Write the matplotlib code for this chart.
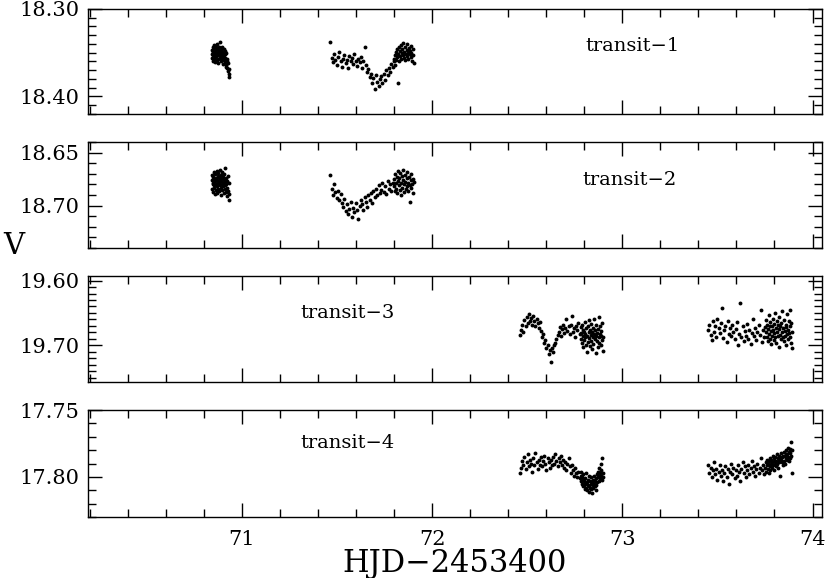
import matplotlib
matplotlib.use("Agg")
import matplotlib.pyplot as plt
from matplotlib.ticker import MultipleLocator, FormatStrFormatter

plt.rcParams['font.family'] = ['DejaVu Serif']

# observation times (HJD - 2453400); transits 1/2 share one night, 3/4 another
t_night1 = [
    70.840, 70.842, 70.843, 70.845, 70.846, 70.848, 70.849, 70.851, 70.852, 70.854,
    70.855, 70.857, 70.858, 70.860, 70.861, 70.863, 70.864, 70.866, 70.867, 70.869,
    70.870, 70.872, 70.873, 70.875, 70.876, 70.878, 70.879, 70.881, 70.882, 70.884,
    70.885, 70.887, 70.888, 70.890, 70.891, 70.893, 70.894, 70.896, 70.897, 70.899,
    70.900, 70.902, 70.903, 70.905, 70.906, 70.908, 70.909, 70.911, 70.912, 70.914,
    70.915, 70.917, 70.919, 70.921, 70.923, 70.925, 70.927, 70.929, 70.931, 70.933,
    71.465, 71.471, 71.478, 71.485, 71.491, 71.498, 71.505, 71.511, 71.518, 71.525,
    71.531, 71.538, 71.545, 71.551, 71.558, 71.565, 71.571, 71.578, 71.585, 71.591,
    71.598, 71.605, 71.611, 71.618, 71.625, 71.631, 71.638, 71.645, 71.651, 71.658,
    71.665, 71.671, 71.678, 71.685, 71.691, 71.698, 71.705, 71.711, 71.718, 71.725,
    71.731, 71.738, 71.745, 71.751, 71.758, 71.765, 71.771, 71.778, 71.785, 71.792,
    71.798, 71.801, 71.803, 71.806, 71.809, 71.811, 71.814, 71.817, 71.819, 71.822,
    71.825, 71.827, 71.830, 71.833, 71.835, 71.838, 71.841, 71.843, 71.846, 71.849,
    71.851, 71.854, 71.857, 71.859, 71.862, 71.865, 71.867, 71.870, 71.873, 71.875,
    71.878, 71.881, 71.883, 71.886, 71.889, 71.891, 71.894, 71.897, 71.899, 71.903,
]
t_night2 = [
    72.462, 72.468, 72.473, 72.479, 72.485, 72.491, 72.497, 72.502, 72.508, 72.514,
    72.520, 72.526, 72.531, 72.537, 72.543, 72.549, 72.555, 72.560, 72.566, 72.572,
    72.578, 72.584, 72.589, 72.595, 72.601, 72.607, 72.613, 72.618, 72.624, 72.630,
    72.636, 72.642, 72.647, 72.653, 72.659, 72.665, 72.671, 72.676, 72.682, 72.688,
    72.694, 72.700, 72.705, 72.711, 72.717, 72.723, 72.729, 72.734, 72.740, 72.746,
    72.752, 72.758, 72.763, 72.769, 72.775,
    72.780, 72.782, 72.784, 72.787, 72.789, 72.791, 72.793, 72.795, 72.798, 72.800,
    72.802, 72.804, 72.806, 72.809, 72.811, 72.813, 72.815, 72.817, 72.820, 72.822,
    72.824, 72.826, 72.828, 72.831, 72.833, 72.835, 72.837, 72.839, 72.842, 72.844,
    72.846, 72.848, 72.850, 72.853, 72.855, 72.857, 72.859, 72.861, 72.864, 72.866,
    72.868, 72.870, 72.872, 72.875, 72.877, 72.879, 72.881, 72.883, 72.886, 72.888,
    72.890, 72.892, 72.894, 72.897, 72.899,
    73.452, 73.458, 73.464, 73.470, 73.476, 73.482, 73.488, 73.494, 73.500, 73.506,
    73.512, 73.518, 73.524, 73.530, 73.536, 73.542, 73.548, 73.554, 73.560, 73.566,
    73.572, 73.578, 73.584, 73.590, 73.596, 73.602, 73.608, 73.614, 73.620, 73.626,
    73.632, 73.638, 73.644, 73.650, 73.656, 73.662, 73.668, 73.674, 73.680, 73.686,
    73.692, 73.698, 73.704, 73.710, 73.716, 73.722, 73.728, 73.734, 73.740, 73.746,
    73.752, 73.754, 73.757, 73.759, 73.762, 73.764, 73.766, 73.769, 73.771, 73.774,
    73.776, 73.778, 73.781, 73.783, 73.786, 73.788, 73.790, 73.793, 73.795, 73.798,
    73.800, 73.802, 73.805, 73.807, 73.810, 73.812, 73.814, 73.817, 73.819, 73.822,
    73.824, 73.826, 73.829, 73.831, 73.834, 73.836, 73.838, 73.841, 73.843, 73.846,
    73.848, 73.850, 73.853, 73.855, 73.858, 73.860, 73.862, 73.865, 73.867, 73.870,
    73.872, 73.874, 73.877, 73.879, 73.882, 73.884, 73.886, 73.889, 73.891, 73.894,
]

# V magnitudes
v_transit1 = [
    18.351, 18.347, 18.356, 18.343, 18.353, 18.359, 18.349, 18.345, 18.357, 18.352,
    18.341, 18.355, 18.348, 18.361, 18.350, 18.344, 18.354, 18.358, 18.346, 18.352,
    18.340, 18.357, 18.349, 18.353, 18.362, 18.347, 18.351, 18.344, 18.356, 18.350,
    18.338, 18.354, 18.348, 18.360, 18.352, 18.345, 18.357, 18.349, 18.343, 18.355,
    18.351, 18.363, 18.346, 18.353, 18.358, 18.348, 18.361, 18.352, 18.356, 18.364,
    18.350, 18.366, 18.359, 18.368, 18.357, 18.371, 18.362, 18.374, 18.369, 18.378,
    18.338, 18.356, 18.361, 18.352, 18.358, 18.364, 18.355, 18.349, 18.360, 18.366,
    18.357, 18.353, 18.362, 18.358, 18.368, 18.354, 18.360, 18.356, 18.363, 18.351,
    18.359, 18.365, 18.357, 18.361, 18.355, 18.367, 18.360, 18.344, 18.364, 18.372,
    18.369, 18.378, 18.374, 18.385, 18.379, 18.391, 18.376, 18.384, 18.388, 18.380,
    18.377, 18.385, 18.374, 18.381, 18.370, 18.376, 18.368, 18.372, 18.363, 18.366,
    18.360, 18.357, 18.364, 18.353, 18.349, 18.358, 18.346, 18.355, 18.385, 18.351,
    18.344, 18.359, 18.348, 18.354, 18.341, 18.357, 18.350, 18.346, 18.353, 18.339,
    18.356, 18.349, 18.343, 18.358, 18.352, 18.347, 18.354, 18.340, 18.350, 18.357,
    18.345, 18.352, 18.348, 18.355, 18.342, 18.350, 18.359, 18.346, 18.353, 18.362,
]
v_transit2 = [
    18.676, 18.684, 18.671, 18.680, 18.687, 18.673, 18.679, 18.668, 18.683, 18.675,
    18.681, 18.689, 18.670, 18.677, 18.685, 18.674, 18.680, 18.667, 18.682, 18.676,
    18.688, 18.672, 18.679, 18.684, 18.669, 18.678, 18.686, 18.673, 18.681, 18.675,
    18.666, 18.683, 18.677, 18.690, 18.671, 18.680, 18.674, 18.685, 18.668, 18.679,
    18.682, 18.673, 18.688, 18.676, 18.670, 18.684, 18.678, 18.665, 18.681, 18.687,
    18.674, 18.680, 18.691, 18.677, 18.683, 18.672, 18.686, 18.679, 18.689, 18.695,
    18.671, 18.684, 18.690, 18.680, 18.687, 18.693, 18.686, 18.695, 18.689, 18.698,
    18.701, 18.694, 18.705, 18.699, 18.708, 18.703, 18.697, 18.711, 18.702, 18.706,
    18.698, 18.704, 18.713, 18.700, 18.695, 18.699, 18.704, 18.692, 18.697, 18.701,
    18.690, 18.695, 18.688, 18.698, 18.686, 18.692, 18.684, 18.690, 18.681, 18.688,
    18.685, 18.679, 18.687, 18.682, 18.689, 18.677, 18.684, 18.680, 18.686, 18.679,
    18.682, 18.675, 18.686, 18.670, 18.679, 18.684, 18.673, 18.688, 18.677, 18.667,
    18.681, 18.674, 18.685, 18.669, 18.679, 18.690, 18.672, 18.683, 18.676, 18.666,
    18.680, 18.687, 18.671, 18.678, 18.684, 18.674, 18.682, 18.668, 18.679, 18.686,
    18.673, 18.681, 18.697, 18.676, 18.683, 18.670, 18.680, 18.675, 18.688, 18.678,
]
v_transit3 = [
    19.684, 19.676, 19.668, 19.679, 19.661, 19.670, 19.657, 19.665, 19.652, 19.663,
    19.658, 19.669, 19.655, 19.662, 19.671, 19.659, 19.666, 19.673, 19.664, 19.678,
    19.687, 19.682, 19.696, 19.692, 19.704, 19.699, 19.713, 19.708, 19.726, 19.705,
    19.711, 19.700, 19.697, 19.690,
    19.684, 19.679, 19.672, 19.686, 19.675, 19.668, 19.681, 19.674, 19.660, 19.678,
    19.671, 19.683, 19.669, 19.655, 19.680, 19.673, 19.687, 19.670, 19.677, 19.666,
    19.682,
    19.672, 19.690, 19.681, 19.697, 19.668, 19.685, 19.676, 19.703, 19.679, 19.692,
    19.664, 19.688, 19.683, 19.699, 19.674, 19.710, 19.686, 19.670, 19.695, 19.680,
    19.661, 19.689, 19.677, 19.701, 19.684, 19.667, 19.693, 19.679, 19.706, 19.687,
    19.673, 19.698, 19.682, 19.660, 19.690, 19.676, 19.712, 19.685, 19.669, 19.694,
    19.681, 19.702, 19.675, 19.688, 19.657, 19.696, 19.683, 19.671, 19.699, 19.686,
    19.678, 19.692, 19.665, 19.687, 19.709,
    19.676, 19.668, 19.684, 19.692, 19.663, 19.679, 19.671, 19.687, 19.659, 19.674,
    19.681, 19.666, 19.643, 19.689, 19.677, 19.670, 19.695, 19.662, 19.683, 19.673,
    19.686, 19.668, 19.679, 19.691, 19.675, 19.664, 19.700, 19.682, 19.634, 19.688,
    19.671, 19.694, 19.678, 19.685, 19.667, 19.690, 19.676, 19.698, 19.681, 19.660,
    19.686, 19.673, 19.692, 19.679, 19.669, 19.684, 19.646, 19.695, 19.677, 19.688,
    19.672, 19.680, 19.661, 19.687, 19.668, 19.693, 19.675, 19.654, 19.683, 19.670,
    19.690, 19.664, 19.678, 19.698, 19.671, 19.685, 19.659, 19.676, 19.692, 19.667,
    19.681, 19.650, 19.688, 19.673, 19.696, 19.662, 19.679, 19.686, 19.669, 19.703,
    19.675, 19.657, 19.684, 19.671, 19.691, 19.665, 19.680, 19.647, 19.687, 19.674,
    19.694, 19.661, 19.678, 19.685, 19.668, 19.699, 19.672, 19.652, 19.683, 19.676,
    19.690, 19.663, 19.681, 19.645, 19.688, 19.670, 19.697, 19.666, 19.704, 19.679,
]
v_transit4 = [
    17.797, 17.793, 17.788, 17.791, 17.785, 17.794, 17.789, 17.783, 17.792, 17.787,
    17.790, 17.796, 17.786, 17.791, 17.782, 17.789, 17.794, 17.787, 17.791, 17.785,
    17.792, 17.788, 17.784, 17.790, 17.795, 17.786, 17.789, 17.793, 17.787, 17.791,
    17.785, 17.790, 17.783, 17.788, 17.792, 17.786, 17.789, 17.784, 17.791, 17.787,
    17.793, 17.789, 17.795, 17.790, 17.786, 17.792, 17.797, 17.791, 17.795, 17.799,
    17.793, 17.797, 17.800, 17.796, 17.801,
    17.799, 17.803, 17.796, 17.805, 17.800, 17.807, 17.802, 17.798, 17.806, 17.803,
    17.809, 17.801, 17.805, 17.797, 17.808, 17.804, 17.810, 17.802, 17.806, 17.799,
    17.807, 17.811, 17.803, 17.808, 17.805, 17.800, 17.809, 17.804, 17.812, 17.806,
    17.802, 17.808, 17.805, 17.799, 17.807, 17.803, 17.810, 17.801, 17.806, 17.798,
    17.804, 17.800, 17.796, 17.803, 17.799, 17.793, 17.801, 17.797, 17.790, 17.799,
    17.795, 17.802, 17.786, 17.797, 17.800,
    17.791, 17.797, 17.793, 17.800, 17.795, 17.789, 17.798, 17.794, 17.802, 17.796,
    17.791, 17.799, 17.795, 17.803, 17.797, 17.792, 17.800, 17.794, 17.805, 17.796,
    17.790, 17.798, 17.793, 17.801, 17.795, 17.799, 17.791, 17.796, 17.803, 17.794,
    17.789, 17.797, 17.792, 17.800, 17.795, 17.791, 17.798, 17.793, 17.788, 17.796,
    17.792, 17.799, 17.794, 17.790, 17.797, 17.793, 17.786, 17.795, 17.791, 17.798,
    17.793, 17.789, 17.796, 17.791, 17.787, 17.794, 17.790, 17.797, 17.788, 17.792,
    17.786, 17.795, 17.790, 17.787, 17.793, 17.789, 17.784, 17.791, 17.788, 17.795,
    17.786, 17.790, 17.785, 17.792, 17.788, 17.783, 17.790, 17.786, 17.793, 17.787,
    17.784, 17.789, 17.785, 17.799, 17.787, 17.782, 17.789, 17.785, 17.791, 17.784,
    17.781, 17.788, 17.784, 17.790, 17.783, 17.786, 17.780, 17.787, 17.783, 17.778,
    17.785, 17.781, 17.788, 17.782, 17.779, 17.786, 17.774, 17.784, 17.797, 17.780,
]

labels = ["transit\u22121", "transit\u22122", "transit\u22123", "transit\u22124"]
ylims = [(18.42, 18.30), (18.74, 18.64), (19.757, 19.593), (17.83, 17.75)]
ymajor = [0.1, 0.05, 0.1, 0.05]
label_pos = [(0.677, 0.65), (0.674, 0.64), (0.289, 0.65), (0.289, 0.69)]

times = [t_night1, t_night1, t_night2, t_night2]
mags = [v_transit1, v_transit2, v_transit3, v_transit4]

fig = plt.figure(figsize=(8.27, 5.78), dpi=100)
# axes boxes in figure fraction (left, bottom, width, height)
boxes = [(0.1064, 0.8028, 0.8876, 0.1817),
         (0.1064, 0.5710, 0.8876, 0.1834),
         (0.1064, 0.3390, 0.8876, 0.1834),
         (0.1064, 0.1055, 0.8876, 0.1850)]

for i in range(4):
    ax = fig.add_axes(boxes[i])
    ax.plot(times[i], mags[i], 'o', color='black', ms=2.8, mew=0)
    ax.set_xlim(70.19, 74.05)
    ax.set_ylim(*ylims[i])
    ax.xaxis.set_major_locator(MultipleLocator(1))
    ax.xaxis.set_minor_locator(MultipleLocator(0.2))
    ax.yaxis.set_major_locator(MultipleLocator(ymajor[i]))
    ax.yaxis.set_minor_locator(MultipleLocator(0.01))
    ax.yaxis.set_major_formatter(FormatStrFormatter('%.2f'))
    ax.tick_params(which='both', direction='in', top=True, right=True,
                   width=1.0, labelsize=15, pad=6)
    ax.tick_params(which='major', length=10)
    ax.tick_params(which='minor', length=5.5)
    for s in ax.spines.values():
        s.set_linewidth(1.0)
    if i < 3:
        ax.tick_params(labelbottom=False)
    else:
        ax.tick_params(axis='x', pad=9)
    ax.text(label_pos[i][0], label_pos[i][1], labels[i], transform=ax.transAxes,
            fontsize=14, ha='left', va='center')

fig.text(0.004, 0.575, "V", fontsize=21, ha='left', va='center')
fig.text(0.55, 0.025, "HJD\u22122453400", fontsize=22, ha='center', va='center')

fig.savefig("out.png", dpi=100)
